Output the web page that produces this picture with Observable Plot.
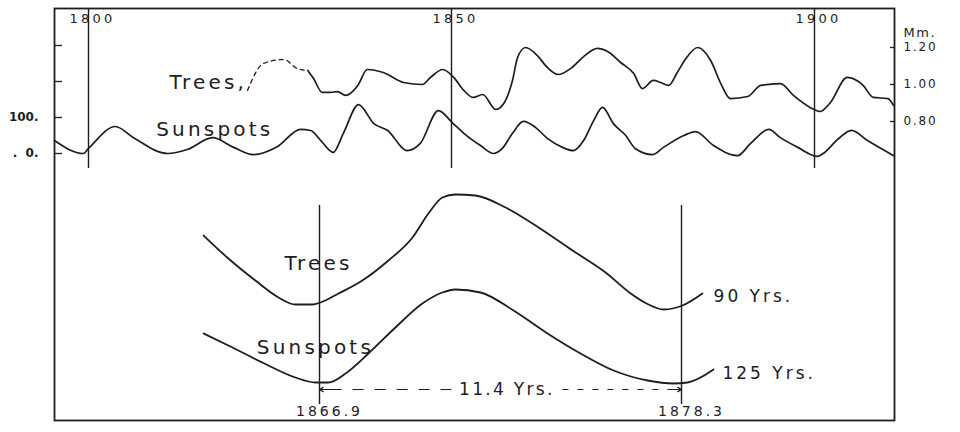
<!DOCTYPE html>
<html>
<head>
<meta charset="utf-8">
<script src="https://cdn.jsdelivr.net/npm/d3@7"></script>
<script src="https://cdn.jsdelivr.net/npm/@observablehq/plot@0.6"></script>
<style>
  html, body { margin: 0; padding: 0; background: #fff; }
  #chart { position: relative; width: 960px; height: 432px; }
  #chart svg { position: absolute; left: 0; top: 0; }
</style>
</head>
<body>
<div id="chart"></div>
<script>
// ---------- data ----------
// Top panel: smoothed sunspot numbers
const sunYears = [1795.3,1799.3,1800.0,1803.7,1806.2,1810.9,1813.6,1817.1,1820.0,1822.7,1826.0,1829.2,1830.6,1832.0,1833.7,1835.1,1837.2,1839.3,1841.2,1843.9,1845.7,1848.2,1850.1,1851.7,1854.0,1855.8,1857.0,1858.4,1859.9,1861.6,1863.2,1865.3,1866.8,1868.2,1869.6,1870.8,1872.3,1874.0,1875.3,1877.7,1879.2,1882.0,1883.6,1886.1,1889.4,1891.2,1893.7,1895.3,1897.7,1900.4,1901.2,1903.2,1905.1,1907.3,1910.9];
const sunValues = [36,0,14,75,44,0,11,44,17,-3,19,67,64,36,3,56,136,83,64,8,28,119,86,56,22,0,14,56,89,72,42,17,8,36,92,128,83,50,14,-3,17,50,61,22,-6,28,67,44,17,-8,0,39,64,36,-6];

// Top panel: tree ring growth (mm), dashed early part and solid part
const treeDashYears = [1821.9,1824.1,1826.9,1828.8,1830.2];
const treeDashValues = [0.968,1.114,1.135,1.086,1.076];
const treeYears = [1830.2,1831.0,1832.2,1833.3,1834.3,1835.4,1837.1,1838.4,1840.6,1843.4,1846.0,1847.1,1848.8,1850.3,1851.7,1853.0,1854.3,1856.1,1857.2,1858.4,1859.1,1860.2,1861.8,1863.2,1864.7,1866.4,1868.2,1870.1,1871.5,1873.3,1875.1,1876.3,1877.8,1878.8,1879.9,1881.1,1882.2,1883.9,1885.7,1887.1,1888.4,1890.8,1892.6,1895.3,1897.1,1899.4,1900.8,1902.2,1904.5,1906.7,1908.1,1910.1,1910.9];
const treeValues = [1.076,1.032,0.957,0.957,0.962,0.941,0.995,1.081,1.065,1.011,1.000,1.038,1.081,1.038,0.968,0.930,0.946,0.865,0.897,1.022,1.146,1.200,1.157,1.092,1.054,1.086,1.151,1.195,1.178,1.119,1.059,0.978,1.022,1.011,0.995,1.065,1.135,1.200,1.130,1.005,0.924,0.935,0.995,1.005,0.941,0.876,0.854,0.903,1.038,0.995,0.930,0.924,0.886];

// Top panel axes
const decadeYears = [1800, 1850, 1900];
const decadeLabels = ["1800", "1850", "1900"];
const sunTickValues = [0, 100, 200, 300];
const sunTickLabels = [".  0.", "100.", "", ""];
const treeTickValues = [0.80, 1.00, 1.20];
const treeTickLabels = ["0.80", "1.00", "1.20"];
const treeUnit = "Mm.";
const topLabels = ["Trees,", "Sunspots"];

// Bottom panel: superposed cycle curves (relative units)
const cycleTreeYears = [1863.25,1864.03,1864.88,1865.61,1866.14,1866.68,1866.93,1867.50,1868.25,1869.07,1869.83,1870.33,1870.77,1871.18,1871.81,1872.76,1873.80,1874.87,1875.91,1876.70,1877.26,1877.74,1878.33,1878.96];
const cycleTreeValues = [92.5,81,70,61.5,58,58,59,63.5,70,80,91.5,103.5,111.5,113,112.5,106.5,96.5,85,74,63.5,58,55.5,57.5,63.5];
const cycleSunYears = [1863.25,1864.03,1865.10,1866.14,1866.77,1867.18,1867.72,1868.44,1869.29,1870.14,1870.77,1871.18,1871.97,1873.01,1874.08,1875.12,1876.16,1877.23,1878.05,1878.49,1879.31];
const cycleSunValues = [43.5,37.5,29,21.5,19,19,23.5,33.5,46.5,58.5,64,65.5,64,55,43.5,33.5,25,20,18.5,19,25.5];
const epochYears = [1866.9, 1878.3];
const epochLabels = ["1866.9", "1878.3"];
const periodLabel = "11.4 Yrs.";
const seriesLabels = ["Trees", "Sunspots"];
const spanLabels = ["90 Yrs.", "125 Yrs."];

// ---------- drawing ----------
const ink = "#1d1d1d";
const base = {
  width: 960, height: 432,
  marginTop: 8, marginRight: 66, marginBottom: 12, marginLeft: 54,
  style: {background: "transparent", fontFamily: "'DejaVu Sans', sans-serif", color: ink, overflow: "visible"}
};
const yearScale = {domain: [1800, 1900], range: [88, 814], axis: null};
const zip = (xs, ys) => xs.map((x, i) => ({x, y: ys[i]}));

// Plot 1: frame, year rules, sunspot curve, left axis
const p1 = Plot.plot({
  ...base,
  x: yearScale,
  y: {domain: [0, 100], range: [153, 117], label: null},
  marks: [
    Plot.frame({stroke: ink, strokeWidth: 1.8}),
    Plot.ruleX(decadeYears, {stroke: ink, strokeWidth: 1.4, insetBottom: 252}),
    Plot.text(decadeLabels, {x: decadeYears, text: d => d, frameAnchor: "top", lineAnchor: "middle", dy: 10, dx: 4, fontSize: 13, ariaDescription: "decade"}),
    Plot.axisY(sunTickValues, {anchor: "left", tickSize: -8, tickPadding: 24, label: null,
      tickFormat: d => sunTickLabels[sunTickValues.indexOf(d)], fontSize: 12, fontWeight: "bold", stroke: ink, strokeWidth: 1.3}),
    Plot.line(zip(sunYears, sunValues), {x: "x", y: "y", curve: "monotone-x", stroke: ink, strokeWidth: 1.7}),
    Plot.text([topLabels[1]], {x: [1817.4], y: [66.7], text: d => d, fontSize: 20, ariaDescription: "biglabel"})
  ]
});

// Plot 2: tree growth curve, right axis
const p2 = Plot.plot({
  ...base,
  x: yearScale,
  y: {domain: [0.8, 1.2], range: [121, 47], label: null},
  marks: [
    Plot.axisY(treeTickValues, {anchor: "right", tickSize: -5, tickPadding: 14, label: null,
      tickFormat: d => treeTickLabels[treeTickValues.indexOf(d)], fontSize: 12, stroke: ink, strokeWidth: 1.3,
      ariaDescription: "rightaxis"}),
    Plot.text([treeUnit], {frameAnchor: "top-right", lineAnchor: "middle", dx: 9, dy: 24, textAnchor: "start", fontSize: 13, text: d => d, ariaDescription: "unit"}),
    Plot.line(zip(treeDashYears, treeDashValues), {x: "x", y: "y", curve: "monotone-x", stroke: ink, strokeWidth: 1.3, strokeDasharray: "4,4"}),
    Plot.line(zip(treeYears, treeValues), {x: "x", y: "y", curve: "monotone-x", stroke: ink, strokeWidth: 1.7}),
    Plot.text([topLabels[0]], {x: [1816.5], y: [1.011], text: d => d, fontSize: 20, ariaDescription: "biglabel"})
  ]
});

// Plot 3: superposed epoch curves
const mid = (epochYears[0] + epochYears[1]) / 2;
const leftDash = [{x1: epochYears[0] + 0.35, x2: mid - 1.55}];
const rightDash = [{x1: mid + 1.95, x2: epochYears[1] - 0.35}];
const heads = [
  {x1: epochYears[0] + 0.4, x2: epochYears[0]},
  {x1: epochYears[1] - 0.4, x2: epochYears[1]}
];
const arrowY = 15.5;
const p3 = Plot.plot({
  ...base,
  x: {domain: [1866.9, 1878.3], range: [319, 681], axis: null},
  y: {domain: [0, 100], range: [420, 220], axis: null},
  marks: [
    Plot.ruleX(epochYears, {stroke: ink, strokeWidth: 1.4, insetTop: 197, insetBottom: 16}),
    Plot.line(zip(cycleTreeYears, cycleTreeValues), {x: "x", y: "y", curve: "monotone-x", stroke: ink, strokeWidth: 1.8}),
    Plot.line(zip(cycleSunYears, cycleSunValues), {x: "x", y: "y", curve: "monotone-x", stroke: ink, strokeWidth: 1.8}),
    Plot.link(leftDash, {x1: "x1", x2: "x2", y1: () => arrowY, y2: () => arrowY, stroke: ink, strokeWidth: 1.2, strokeDasharray: "11,11"}),
    Plot.link(rightDash, {x1: "x1", x2: "x2", y1: () => arrowY, y2: () => arrowY, stroke: ink, strokeWidth: 1.2, strokeDasharray: "6,9"}),
    Plot.arrow(heads, {x1: "x1", x2: "x2", y1: () => arrowY, y2: () => arrowY, stroke: ink, strokeWidth: 1.2, headLength: 7, bend: 0}),
    Plot.text([periodLabel], {x: [mid + 0.2], y: [arrowY], text: d => d, fontSize: 17, ariaDescription: "midlabel2"}),
    Plot.text(seriesLabels, {x: [1866.87, 1866.77], y: [78.5, 36.5], text: d => d, fontSize: 20, ariaDescription: "biglabel"}),
    Plot.text(spanLabels, {x: [1879.31, 1879.59], y: [62, 23.5], text: d => d, textAnchor: "start", fontSize: 17, ariaDescription: "midlabel"}),
    Plot.text(epochLabels, {x: epochYears, y: [4.5, 4.5], text: d => d, dx: 10, fontSize: 14, ariaDescription: "epoch"})
  ]
});

const spacing = {decade: "3.2px", biglabel: "3.2px", midlabel: "3px", midlabel2: "2.3px", epoch: "3px", unit: "1.5px", rightaxis: "1.8px"};
for (const svg of [p1, p2, p3]) {
  for (const [label, sp] of Object.entries(spacing)) {
    svg.querySelectorAll(`[aria-description="${label}"] text`).forEach(t => t.style.letterSpacing = sp);
  }
  document.getElementById("chart").appendChild(svg);
}
</script>
</body>
</html>
